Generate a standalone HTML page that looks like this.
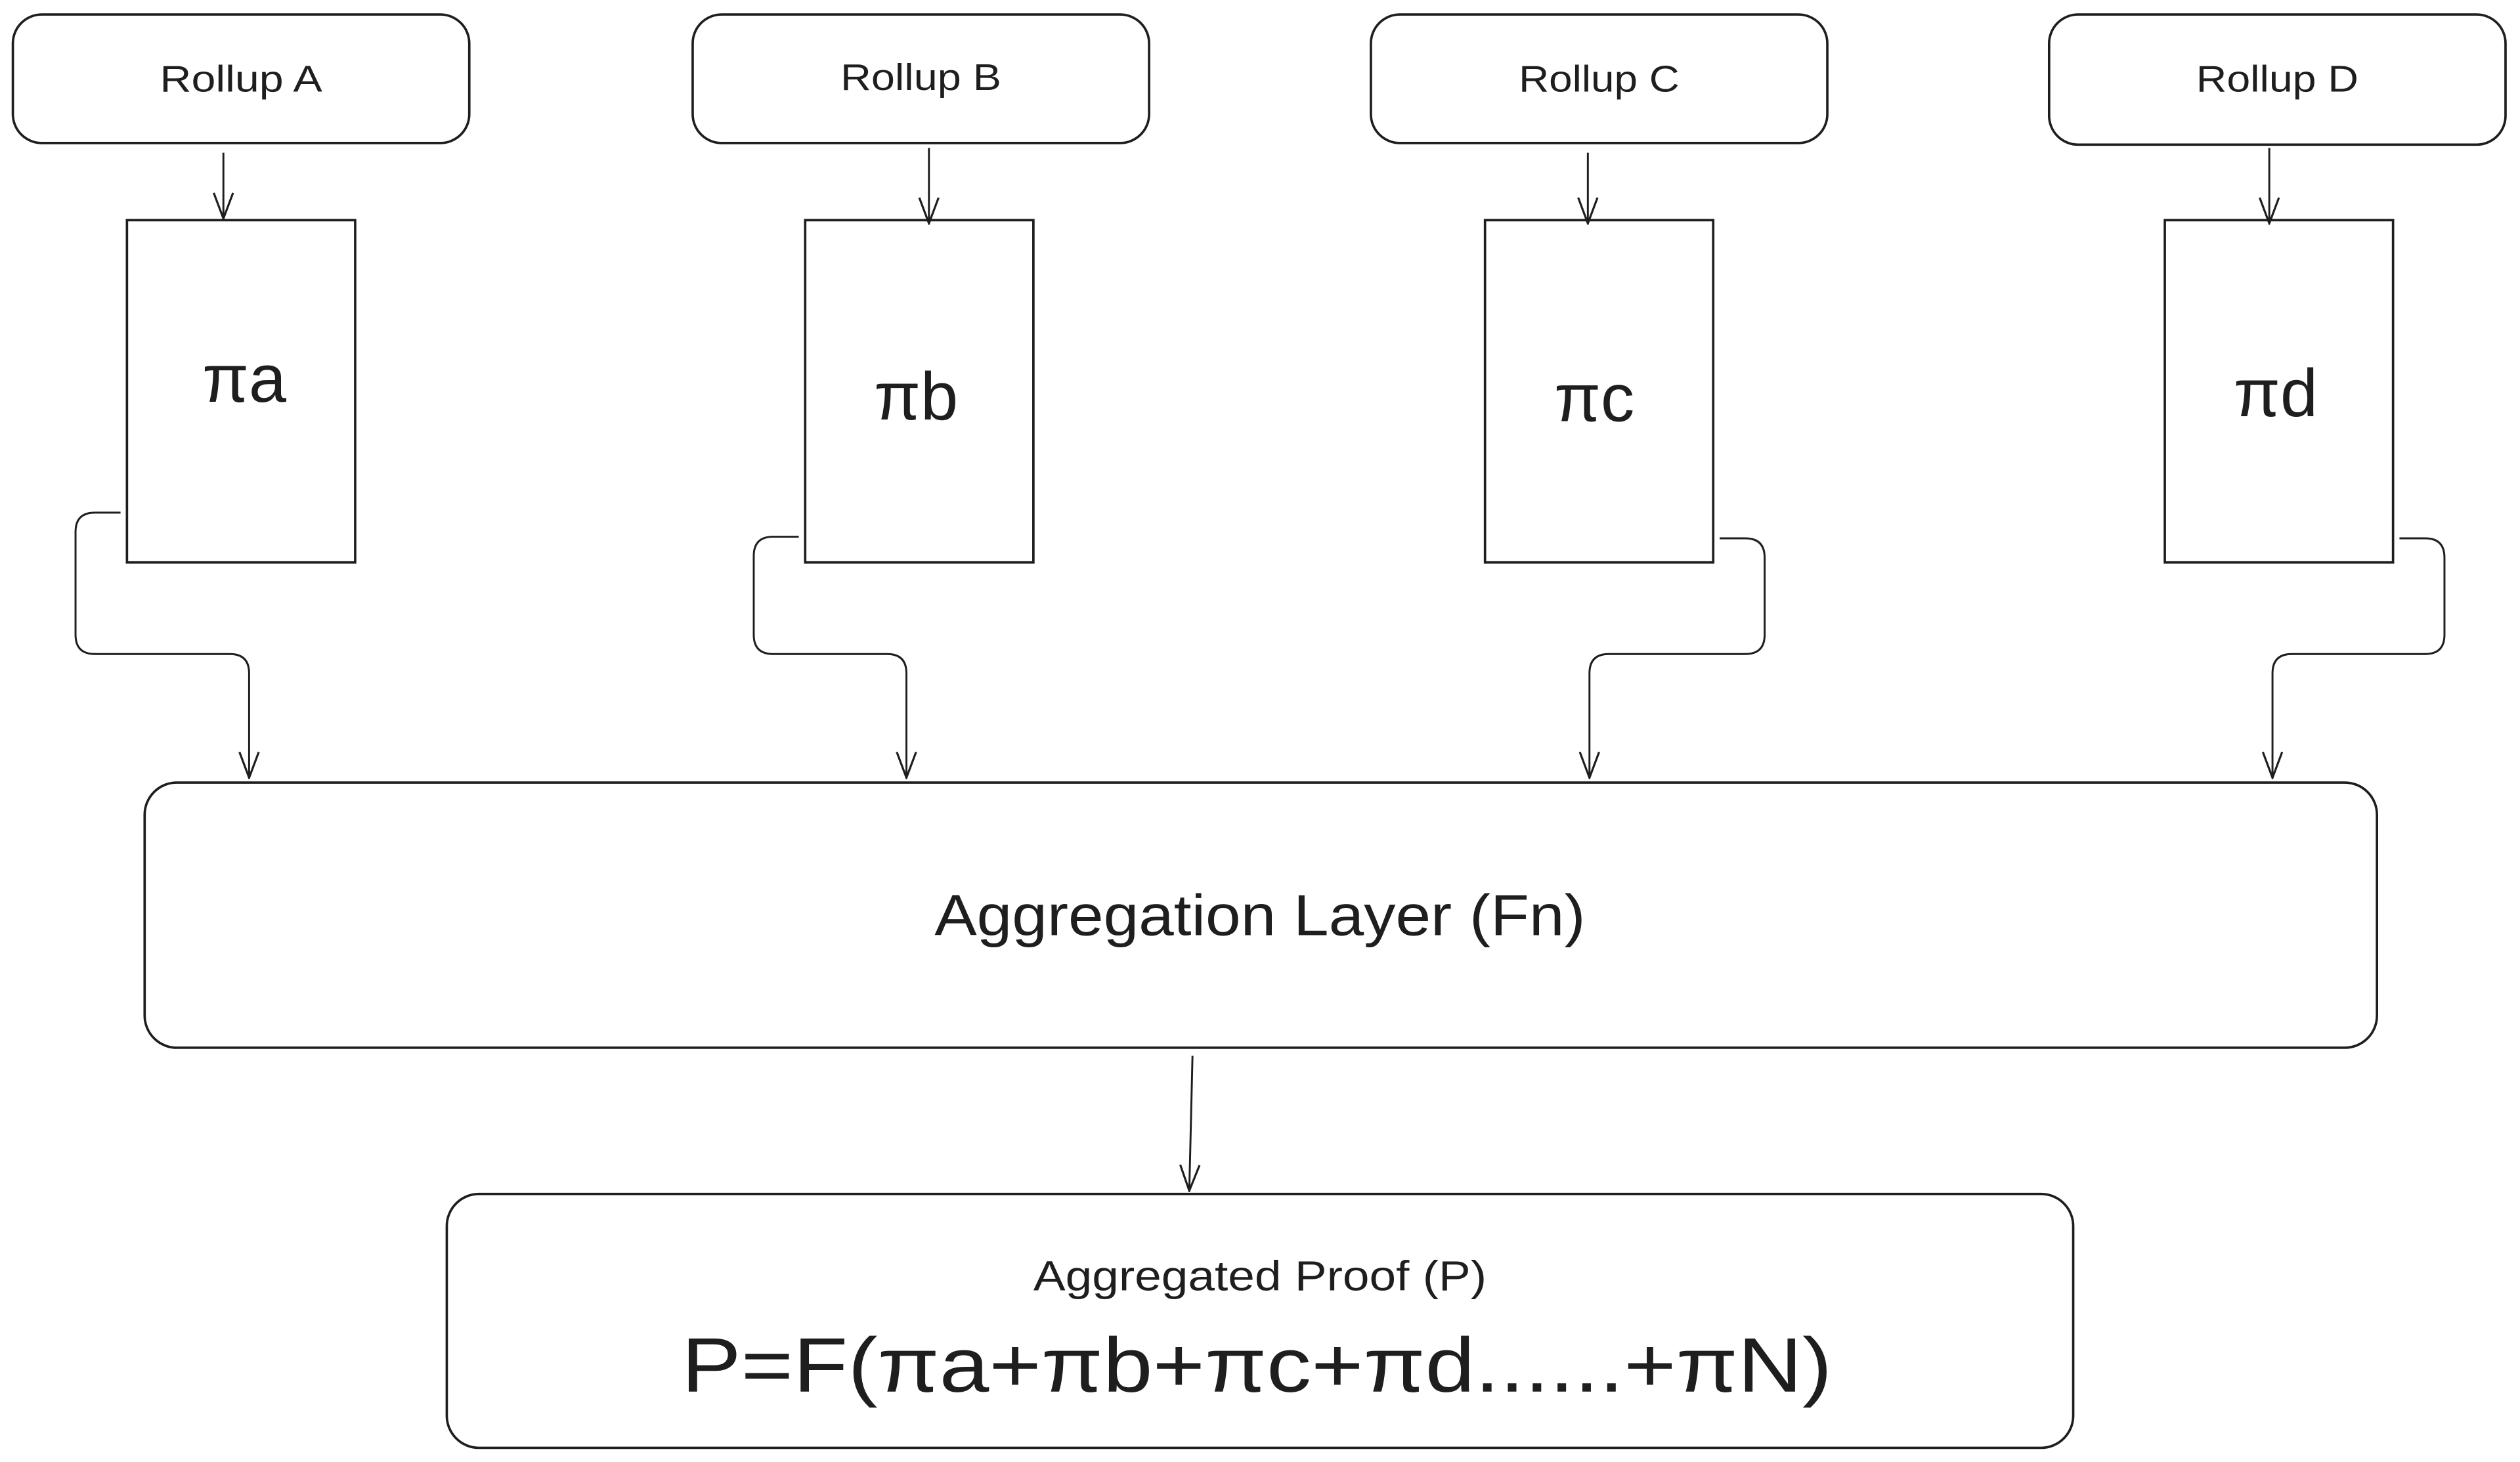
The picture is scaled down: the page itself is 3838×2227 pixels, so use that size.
<!DOCTYPE html>
<html><head><meta charset="utf-8"><style>
html,body{margin:0;padding:0;background:#fff;}
svg{display:block;}
text{font-family:"Liberation Sans","DejaVu Sans",sans-serif;fill:#1e1e1e;}
</style></head><body>
<svg width="3838" height="2227" viewBox="0 0 1568 909.8">
<defs>
<marker id="ah" viewBox="0 0 18 14" refX="17" refY="7" markerWidth="18" markerHeight="14" markerUnits="userSpaceOnUse" orient="auto">
<path d="M1 1 L17 7 L1 13" fill="none" stroke="#1e1e1e" stroke-width="1.3"/>
</marker>
</defs>
<g fill="none" stroke="#1e1e1e" stroke-width="1.5">
<rect x="8" y="9" width="284" height="80" rx="18"/>
<rect x="431" y="9" width="284" height="80" rx="18"/>
<rect x="853" y="9" width="284" height="80" rx="18"/>
<rect x="1275" y="9" width="284" height="81" rx="18"/>
<rect x="79" y="137" width="142" height="213"/>
<rect x="501" y="137" width="142" height="213"/>
<rect x="924" y="137" width="142" height="213"/>
<rect x="1347" y="137" width="142" height="213"/>
<rect x="90" y="487" width="1389" height="165" rx="20"/>
<rect x="278" y="743" width="1012" height="158" rx="20"/>
<g stroke-width="1.2" marker-end="url(#ah)">
<path d="M139 95 L139 136"/>
<path d="M578 92 L578 139"/>
<path d="M988 95 L988 139"/>
<path d="M1412 92 L1412 139"/>
<path d="M75 319 L59 319 Q47 319 47 331 L47 395 Q47 407 59 407 L143 407 Q155 407 155 419 L155 484"/>
<path d="M497 334 L481 334 Q469 334 469 346 L469 395 Q469 407 481 407 L552 407 Q564 407 564 419 L564 484"/>
<path d="M1070 335 L1086 335 Q1098 335 1098 347 L1098 395 Q1098 407 1086 407 L1001 407 Q989 407 989 419 L989 484"/>
<path d="M1493 335 L1509 335 Q1521 335 1521 347 L1521 395 Q1521 407 1509 407 L1426 407 Q1414 407 1414 419 L1414 484"/>
<path d="M742 657 L740 741"/>
</g>
</g>
<text x="150" y="57" font-size="23" text-anchor="middle" textLength="101" lengthAdjust="spacingAndGlyphs">Rollup A</text>
<text x="573" y="56" font-size="23" text-anchor="middle" textLength="100" lengthAdjust="spacingAndGlyphs">Rollup B</text>
<text x="995" y="57" font-size="23" text-anchor="middle" textLength="100" lengthAdjust="spacingAndGlyphs">Rollup C</text>
<text x="1417" y="57" font-size="23" text-anchor="middle" textLength="101" lengthAdjust="spacingAndGlyphs">Rollup D</text>
<text x="152" y="250" font-size="42" text-anchor="middle">πa</text>
<text x="570" y="261" font-size="42" text-anchor="middle">πb</text>
<text x="992" y="262" font-size="42" text-anchor="middle">πc</text>
<text x="1416" y="259" font-size="42" text-anchor="middle">πd</text>
<text x="784" y="582" font-size="36" text-anchor="middle" textLength="405" lengthAdjust="spacingAndGlyphs">Aggregation Layer (Fn)</text>
<text x="784" y="803" font-size="26" text-anchor="middle" textLength="282" lengthAdjust="spacingAndGlyphs">Aggregated Proof (P)</text>
<text x="782" y="866" font-size="48" text-anchor="middle" textLength="716" lengthAdjust="spacingAndGlyphs">P=F(πa+πb+πc+πd......+πN)</text>
</svg>
</body></html>
